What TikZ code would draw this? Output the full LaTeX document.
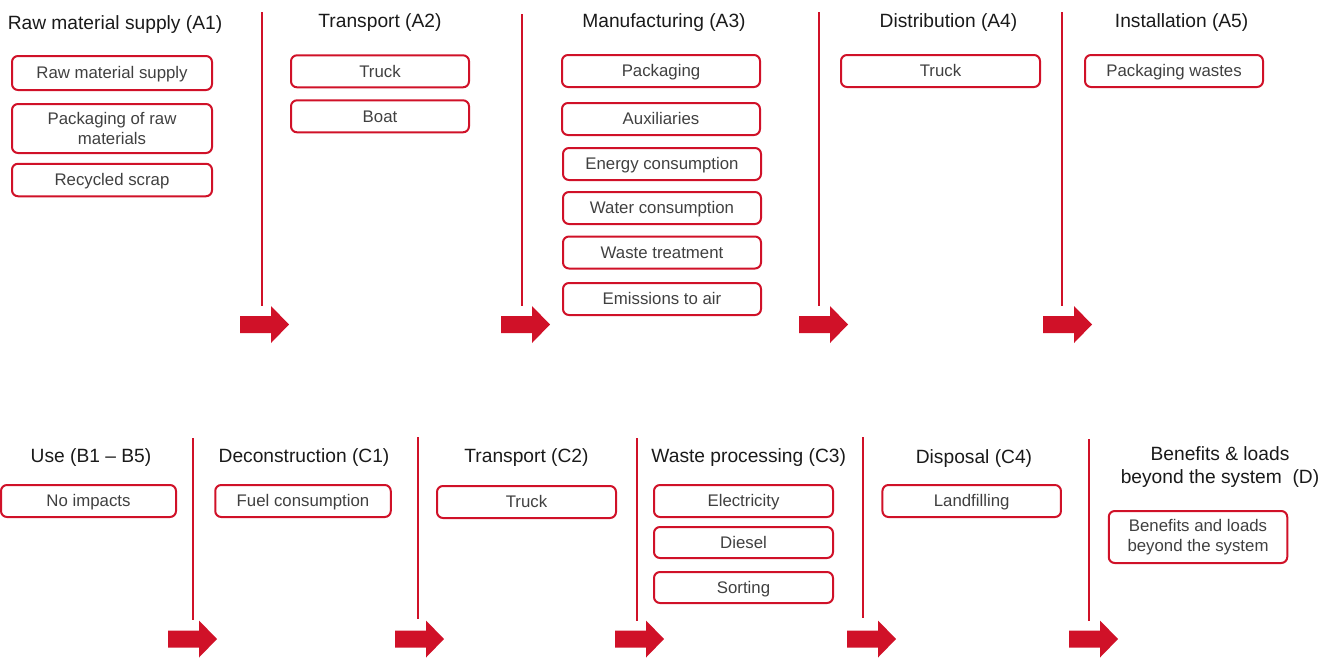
\documentclass[tikz,border=0pt]{standalone}
\usepackage{fontspec}
\setmainfont{Liberation Sans}
\definecolor{redc}{RGB}{208,17,40}
\definecolor{titlec}{RGB}{26,26,26}
\definecolor{boxtextc}{RGB}{64,64,64}
\newcommand\stagearrow[2]{%
  \fill[redc] ({#1},{#2-8.5}) -- ({#1+31},{#2-8.5}) -- ({#1+31},{#2-18.5}) -- ({#1+49},{#2})
    -- ({#1+31},{#2+18.5}) -- ({#1+31},{#2+8.5}) -- ({#1},{#2+8.5}) -- cycle;}
\begin{document}
\begin{tikzpicture}[x=1pt,y=-1pt,
  stagetitle/.style={anchor=base,inner sep=0pt,text=titlec,font=\fontsize{19.2}{22.3}\selectfont},
  itembox/.style={draw=redc,line width=2pt,rounded corners=6pt,inner sep=0pt,text=boxtextc,
    font=\fontsize{16.8}{20}\selectfont,text height=11.8pt,text depth=0pt,minimum height=32pt},
  itembox2/.style={draw=redc,line width=2pt,rounded corners=6pt,inner sep=0pt,text=boxtextc,
    font=\fontsize{16.8}{20}\selectfont,align=center},
  sepline/.style={draw=redc,line width=2pt}]
\useasboundingbox (0,0) rectangle (1332,657);
% ---- top row titles
\node[stagetitle] (tA1) at (115,29.5) {Raw material supply (A1)};
\node[stagetitle] (tA2) at (380,27) {Transport (A2)};
\node[stagetitle] (tA3) at (664,27) {Manufacturing (A3)};
\node[stagetitle] (tA4) at (948.5,27) {Distribution (A4)};
\node[stagetitle] (tA5) at (1181.6,27) {Installation (A5)};
% ---- A1 boxes
\node[itembox,minimum width=200pt,minimum height=34pt] (a1x) at (112,73) {Raw material supply};
\node[itembox2,minimum width=200pt,minimum height=49pt] (a1y) at (112,128.5) {Packaging of raw\\materials};
\node[itembox,minimum width=200pt,minimum height=32.5pt] (a1z) at (112,180) {Recycled scrap};
% ---- A2
\node[itembox,minimum width=178pt] (a2x) at (380,71.3) {Truck};
\node[itembox,minimum width=178pt] (a2y) at (380,116.3) {Boat};
% ---- A3
\node[itembox,minimum width=198pt] (a3a) at (661,71) {Packaging};
\node[itembox,minimum width=198pt] (a3b) at (661,119) {Auxiliaries};
\node[itembox,minimum width=198pt] (a3c) at (662,164) {Energy consumption};
\node[itembox,minimum width=198pt] (a3d) at (662,208) {Water consumption};
\node[itembox,minimum width=198pt] (a3e) at (662,252.5) {Waste treatment};
\node[itembox,minimum width=198pt] (a3f) at (662,299) {Emissions to air};
% ---- A4, A5
\node[itembox,minimum width=199pt] (a4x) at (940.5,71) {Truck};
\node[itembox,minimum width=178pt] (a5x) at (1174,71) {Packaging wastes};
% ---- top separators
\draw[sepline] (262,12) -- (262,306);
\draw[sepline] (522,14) -- (522,306);
\draw[sepline] (818.5,12) -- (818.5,306);
\draw[sepline] (1062,12) -- (1062,306);
\stagearrow{240}{324.5}
\stagearrow{501}{324.5}
\stagearrow{799}{324.5}
\stagearrow{1043}{324.5}
% ---- bottom row titles
\node[stagetitle] (tB) at (91,462) {Use (B1 – B5)};
\node[stagetitle] (tC1) at (304,462) {Deconstruction (C1)};
\node[stagetitle] (tC2) at (526.5,462) {Transport (C2)};
\node[stagetitle] (tC3) at (748.7,462) {Waste processing (C3)};
\node[stagetitle] (tC4) at (974,463) {Disposal (C4)};
\node[stagetitle,align=center] (tD) at (1220,483) {Benefits \& loads\\beyond the system~~(D)};
% ---- bottom boxes
\node[itembox,minimum width=175pt] (bx) at (88.5,501) {No impacts};
\node[itembox,minimum width=175.5pt] (c1x) at (303,501) {Fuel consumption};
\node[itembox,minimum width=179pt] (c2x) at (526.5,502) {Truck};
\node[itembox,minimum width=179pt] (c3a) at (743.5,501) {Electricity};
\node[itembox,minimum width=179pt,minimum height=31pt] (c3b) at (743.5,542.5) {Diesel};
\node[itembox,minimum width=179pt,minimum height=31pt] (c3c) at (743.5,587.5) {Sorting};
\node[itembox,minimum width=178.5pt] (c4x) at (971.7,501) {Landfilling};
\node[itembox2,minimum width=178.5pt,minimum height=52pt] (dx) at (1198,537) {Benefits and loads\\beyond the system};
% ---- bottom separators
\draw[sepline] (192.5,438) -- (192.5,620);
\draw[sepline] (417.5,437) -- (417.5,619);
\draw[sepline] (636.5,438) -- (636.5,621);
\draw[sepline] (862.7,437) -- (862.7,618);
\draw[sepline] (1088.5,439) -- (1088.5,621);
\stagearrow{168}{639}
\stagearrow{395}{639}
\stagearrow{615}{639}
\stagearrow{847}{639}
\stagearrow{1069}{639}
\end{tikzpicture}
\end{document}
